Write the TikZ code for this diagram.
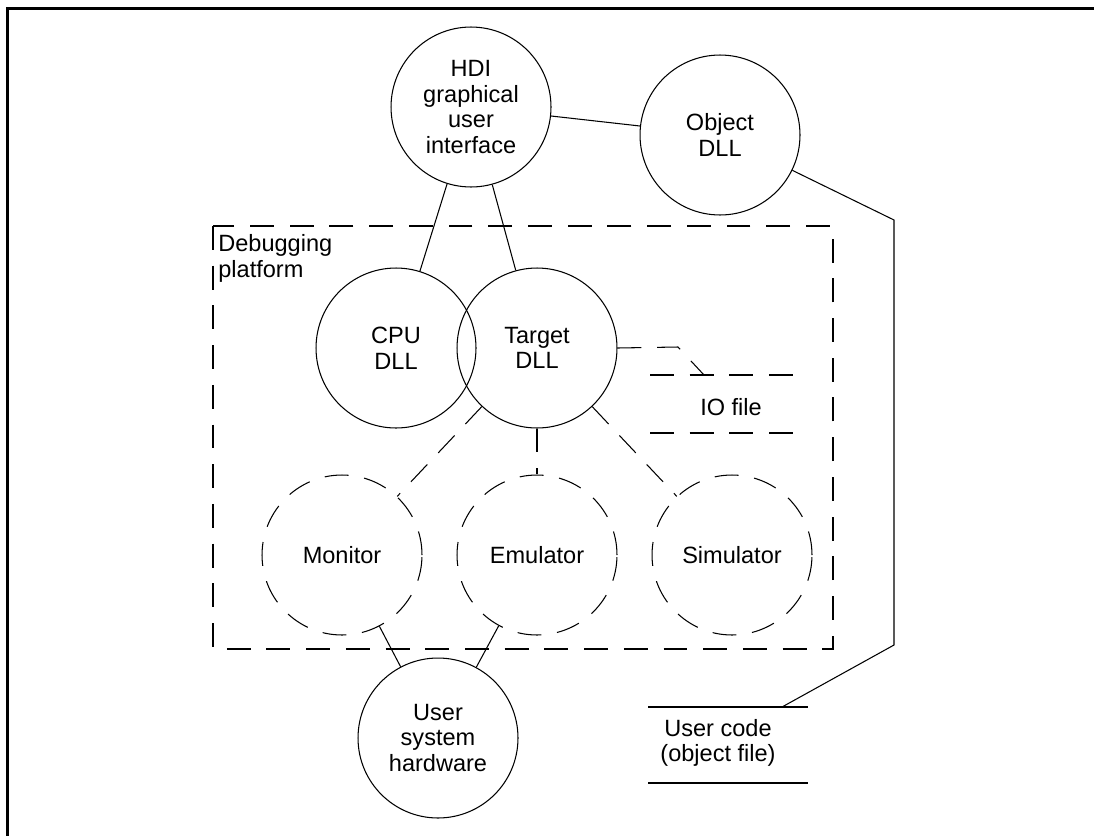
\documentclass[tikz,border=0pt]{standalone}
\usepackage{fontspec}
\setmainfont{Liberation Sans}
\usetikzlibrary{positioning}
\newcommand{\hdifont}{\fontsize{13.4pt}{14.6pt}\selectfont}
\tikzset{
  unit/.style      = {circle, draw, line width=0.6pt, minimum size=3.2cm,
                      inner sep=0pt, align=center, font=\hdifont},
  hwunit/.style    = {unit, dash pattern=on 13.6pt off 9pt},
  link/.style      = {draw, line width=0.6pt},
  dlink/.style     = {link, dash pattern=on 13.6pt off 9pt},
  txt/.style       = {align=center, inner sep=0pt, font=\hdifont},
  pagerule/.style  = {draw, line width=1.6pt},
}

\begin{document}
\begin{tikzpicture}[x=0.02cm, y=-0.02cm]
  \useasboundingbox (0,0) rectangle (1094,835);
  \draw[pagerule] (1100,8.7) -- (7.8,8.7) -- (7.8,840);
  % debugging platform box
  \draw[dlink] (213,226) rectangle (833,649);
  \node[txt, align=left, anchor=north west] (dbg) at (218,234) {Debugging\\platform};
  % units
  \node[unit] (hdi) at (471,107) {HDI\\graphical\\user\\interface};
  \node[unit] (obj) at (720,135) {Object\\DLL};
  \node[unit] (cpu) at (396,348) {CPU\\DLL};
  \node[unit] (tgt) at (537,348) {Target\\DLL};
  \node[hwunit] (mon) at (342,555) {Monitor};
  \node[hwunit] (emu) at (537,555) {Emulator};
  \node[hwunit] (sim) at (732,555) {Simulator};
  \node[unit] (ush) at (438,738) {User\\system\\hardware};
  % data stores
  \node[txt] (io) at (731,407) {IO file};
  \draw[dlink] (650,375) -- (793,375);
  \draw[dlink] (650,433) -- (793,433);
  \node[txt] (ucode) at (718,743) {User code\\(object file)};
  \draw[link] (648,707) -- (808,707);
  \draw[link] (648,783) -- (808,783);
  \coordinate (iobend) at (678,347);
  \coordinate (iotop) at (704,375);
  \coordinate (objA) at (894,220);
  \coordinate (objB) at (894,645);
  \coordinate (uctop) at (782,707);
  % connectors
  \draw[link] (hdi) -- (obj);
  \draw[link] (hdi) -- (cpu);
  \draw[link] (hdi) -- (tgt);
  \draw[link] (obj) -- (objA) -- (objB) -- (uctop);
  \draw[dlink] (tgt.east) -- (iobend) -- (iotop);
  \draw[dlink] (tgt) -- (mon);
  \draw[dlink] (tgt) -- (emu);
  \draw[dlink] (tgt) -- (sim);
  \draw[link] (mon) -- (ush);
  \draw[link] (emu) -- (ush);
\end{tikzpicture}
\end{document}
